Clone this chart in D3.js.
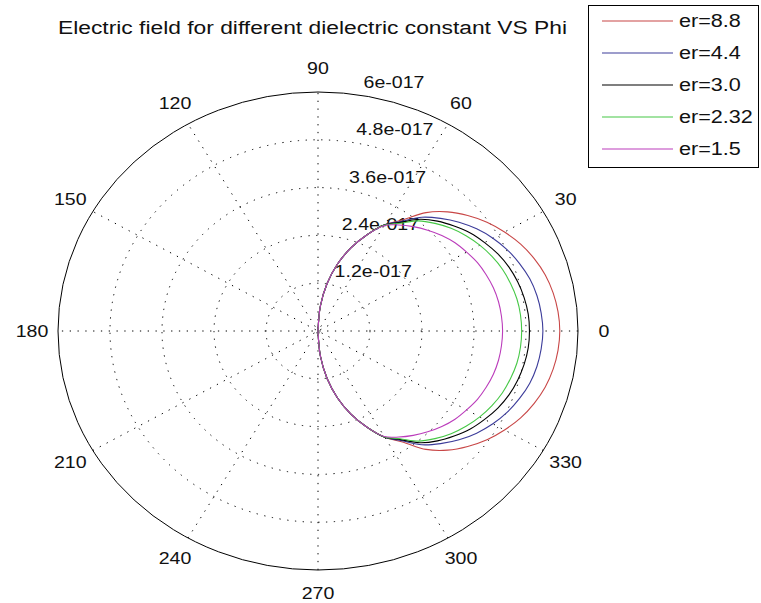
<!DOCTYPE html>
<html>
<head>
<meta charset="utf-8">
<script src="https://cdn.jsdelivr.net/npm/d3@7"></script>
<style>
  html, body { margin: 0; padding: 0; background: #fff; }
  svg { display: block; }
  text { font-family: "Liberation Sans", Arial, sans-serif; fill: #111; }
</style>
</head>
<body>
<div id="chart"></div>
<script>
// ---- data (radial values in units of 1e-17) ----
const titleText = "Electric field for different dielectric constant VS Phi";
const phiDeg = [-90,-85,-80,-75,-70,-65,-60,-55,-50,-45,-40,-35,-30,-25,-20,-15,-10,-5,0,
                5,10,15,20,25,30,35,40,45,50,55,60,65,70,75,80,85,90];
const seriesNames = ["er=8.8", "er=4.4", "er=3.0", "er=2.32", "er=1.5"];
const seriesColors = ["#c84646", "#3c3c9a", "#000000", "#46c846", "#bb3cbb"];
const er88  = [0,0.63,1.21,1.74,2.22,2.66,3.08,3.40,3.88,4.23,4.51,4.76,4.97,5.16,5.31,5.43,5.51,5.56,5.58,
               5.56,5.51,5.43,5.31,5.16,4.97,4.76,4.51,4.23,3.88,3.40,3.08,2.66,2.22,1.74,1.21,0.63,0];
const er44  = [0,0.63,1.21,1.74,2.22,2.66,3.08,3.36,3.73,4.00,4.25,4.47,4.66,4.82,4.95,5.06,5.13,5.17,5.19,
               5.17,5.13,5.06,4.95,4.82,4.66,4.47,4.25,4.00,3.73,3.36,3.08,2.66,2.22,1.74,1.21,0.63,0];
const er30  = [0,0.63,1.21,1.74,2.22,2.66,3.08,3.33,3.66,3.90,4.10,4.29,4.44,4.58,4.69,4.77,4.83,4.87,4.88,
               4.87,4.83,4.77,4.69,4.58,4.44,4.29,4.10,3.90,3.66,3.33,3.08,2.66,2.22,1.74,1.21,0.63,0];
const er232 = [0,0.63,1.21,1.74,2.22,2.66,3.07,3.30,3.61,3.82,4.01,4.17,4.31,4.43,4.53,4.60,4.66,4.69,4.70,
               4.69,4.66,4.60,4.53,4.43,4.31,4.17,4.01,3.82,3.61,3.30,3.07,2.66,2.22,1.74,1.21,0.63,0];
const er15  = [0,0.63,1.21,1.74,2.22,2.66,3.06,3.25,3.42,3.58,3.73,3.86,3.96,4.06,4.13,4.19,4.23,4.25,4.26,
               4.25,4.23,4.19,4.13,4.06,3.96,3.86,3.73,3.58,3.42,3.25,3.06,2.66,2.22,1.74,1.21,0.63,0];
const radialTicks = [1.2, 2.4, 3.6, 4.8, 6];
const radialTickLabels = ["1.2e-017", "2.4e-017", "3.6e-017", "4.8e-017", "6e-017"];
const angleTicks = [0,30,60,90,120,150,180,210,240,270,300,330];
const angleTickLabels = ["0","30","60","90","120","150","180","210","240","270","300","330"];
const rMax = 6;

const W = 761, H = 603;
const cx = 318, cy = 331;
const svg = d3.select("#chart").append("svg").attr("width", W).attr("height", H);
svg.append("rect").attr("width", W).attr("height", H).attr("fill", "#fff");

const rx = d3.scaleLinear().domain([0, rMax]).range([0, 260]);
const ry = d3.scaleLinear().domain([0, rMax]).range([0, 239]);
const rad = d => d * Math.PI / 180;
const px = (r, a) => cx + rx(r) * Math.cos(rad(a));
const py = (r, a) => cy - ry(r) * Math.sin(rad(a));

const STRETCH = 1.15;
function stretch(sel, k) {
  sel.each(function() {
    const w = this.getComputedTextLength();
    d3.select(this).attr("textLength", w * (k || STRETCH)).attr("lengthAdjust", "spacingAndGlyphs");
  });
}

const g = svg.append("g");

// dotted rings (outer one solid)
radialTicks.forEach(v => {
  g.append("ellipse")
    .attr("cx", cx).attr("cy", cy)
    .attr("rx", rx(v)).attr("ry", ry(v))
    .attr("fill", "none").attr("stroke", "#000")
    .attr("stroke-width", 1)
    .attr("stroke-dasharray", v === rMax ? null : "1.3,6.5");
});

// dotted spokes through the centre
[30,60,90,120,150,180].forEach(a => {
  g.append("line")
    .attr("x1", px(rMax, a + 180)).attr("y1", py(rMax, a + 180))
    .attr("x2", px(rMax, a)).attr("y2", py(rMax, a))
    .attr("stroke", "#000").attr("stroke-width", 1)
    .attr("stroke-dasharray", "1.3,6.5");
});

// radial tick labels at 82 degrees
radialTicks.forEach((v, i) => {
  const t = g.append("text")
    .attr("x", px(v + rMax / 100, 82) + 9)
    .attr("y", py(v + rMax / 100, 82) - 4)
    .attr("font-size", 17)
    .attr("text-anchor", "start")
    .text(radialTickLabels[i]);
  stretch(t);
});

// angle labels
angleTicks.forEach((a, i) => {
  const t = g.append("text")
    .attr("x", px(rMax * 1.1, a))
    .attr("y", py(rMax * 1.1, a))
    .attr("font-size", 17)
    .attr("text-anchor", "middle")
    .attr("dominant-baseline", "central")
    .text(angleTickLabels[i]);
  stretch(t);
});

// series curves
const allSeries = [er88, er44, er30, er232, er15];
const line = d3.line()
  .x(d => px(d.r, d.a))
  .y(d => py(d.r, d.a))
  .curve(d3.curveCatmullRom.alpha(0.5));
allSeries.forEach((vals, si) => {
  const pts = phiDeg.map((a, i) => ({ a: a, r: vals[i] }));
  g.append("path")
    .attr("d", line(pts))
    .attr("fill", "none")
    .attr("stroke", seriesColors[si])
    .attr("stroke-width", 1.1);
});

// title
const tt = svg.append("text")
  .attr("x", 312.5).attr("y", 34)
  .attr("font-size", 18)
  .attr("text-anchor", "middle")
  .text(titleText);
tt.attr("textLength", 509).attr("lengthAdjust", "spacingAndGlyphs");

// legend
const lg = svg.append("g");
lg.append("rect")
  .attr("x", 588.5).attr("y", 5.5).attr("width", 170).attr("height", 162)
  .attr("fill", "#fff").attr("stroke", "#000").attr("stroke-width", 1);
seriesNames.forEach((name, i) => {
  const yy = 21 + i * 32;
  lg.append("line")
    .attr("x1", 602).attr("x2", 673)
    .attr("y1", yy).attr("y2", yy)
    .attr("stroke", seriesColors[i]).attr("stroke-width", 1.1);
  const t = lg.append("text")
    .attr("x", 679).attr("y", yy)
    .attr("font-size", 18)
    .attr("dominant-baseline", "central")
    .text(name);
  stretch(t, 1.2);
});
</script>
</body>
</html>
